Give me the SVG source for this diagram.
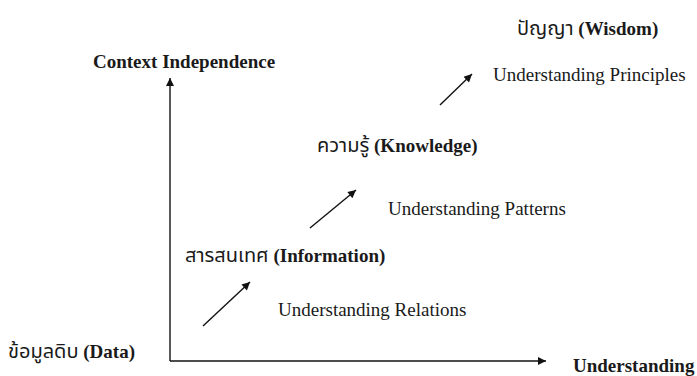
<svg xmlns="http://www.w3.org/2000/svg" width="697" height="376" viewBox="0 0 697 376">
<style>
text{font-family:"Liberation Serif","Noto Sans Thai","DejaVu Sans",serif;fill:#1a1a1a;font-size:19px}
.b{font-weight:bold}
.th{font-family:"Noto Sans Thai","Tahoma","DejaVu Sans","Liberation Serif",sans-serif;font-size:20px}
.ln{stroke:#111;stroke-width:1.4;fill:none}
</style>
<defs>
<marker id="ah" viewBox="0 0 10 10" refX="10" refY="5" markerWidth="10" markerHeight="8" markerUnits="userSpaceOnUse" orient="auto">
<path d="M0,0 L10,5 L0,10 z" fill="#111"/>
</marker>
</defs>
<rect width="697" height="376" fill="#fff"/>
<g id="connectors">
<path class="ln" d="M170,361 V78" marker-end="url(#ah)"/>
<path class="ln" d="M170,361 H546" marker-end="url(#ah)"/>
<path class="ln" d="M203,326 L250,282" marker-end="url(#ah)"/>
<path class="ln" d="M310,228 L356,190" marker-end="url(#ah)"/>
<path class="ln" d="M440,105 L472,74" marker-end="url(#ah)"/>
</g>
<g id="y-axis-label"><text x="93" y="68" class="b">Context Independence</text></g>
<g id="x-axis-label"><text x="573" y="372" class="b">Understanding</text></g>
<g id="data"><text x="8" y="358"><tspan class="th">ข้อมูลดิบ</tspan> <tspan class="b">(Data)</tspan></text></g>
<g id="information"><text x="185" y="262"><tspan class="th">สารสนเทศ</tspan> <tspan class="b">(Information)</tspan></text></g>
<g id="knowledge"><text x="317" y="152"><tspan class="th">ความรู้</tspan> <tspan class="b">(Knowledge)</tspan></text></g>
<g id="wisdom"><text x="517" y="35"><tspan class="th">ปัญญา</tspan> <tspan class="b">(Wisdom)</tspan></text></g>
<g id="relations"><text x="278" y="316">Understanding Relations</text></g>
<g id="patterns"><text x="388" y="215">Understanding Patterns</text></g>
<g id="principles"><text x="493" y="81">Understanding Principles</text></g>
</svg>
